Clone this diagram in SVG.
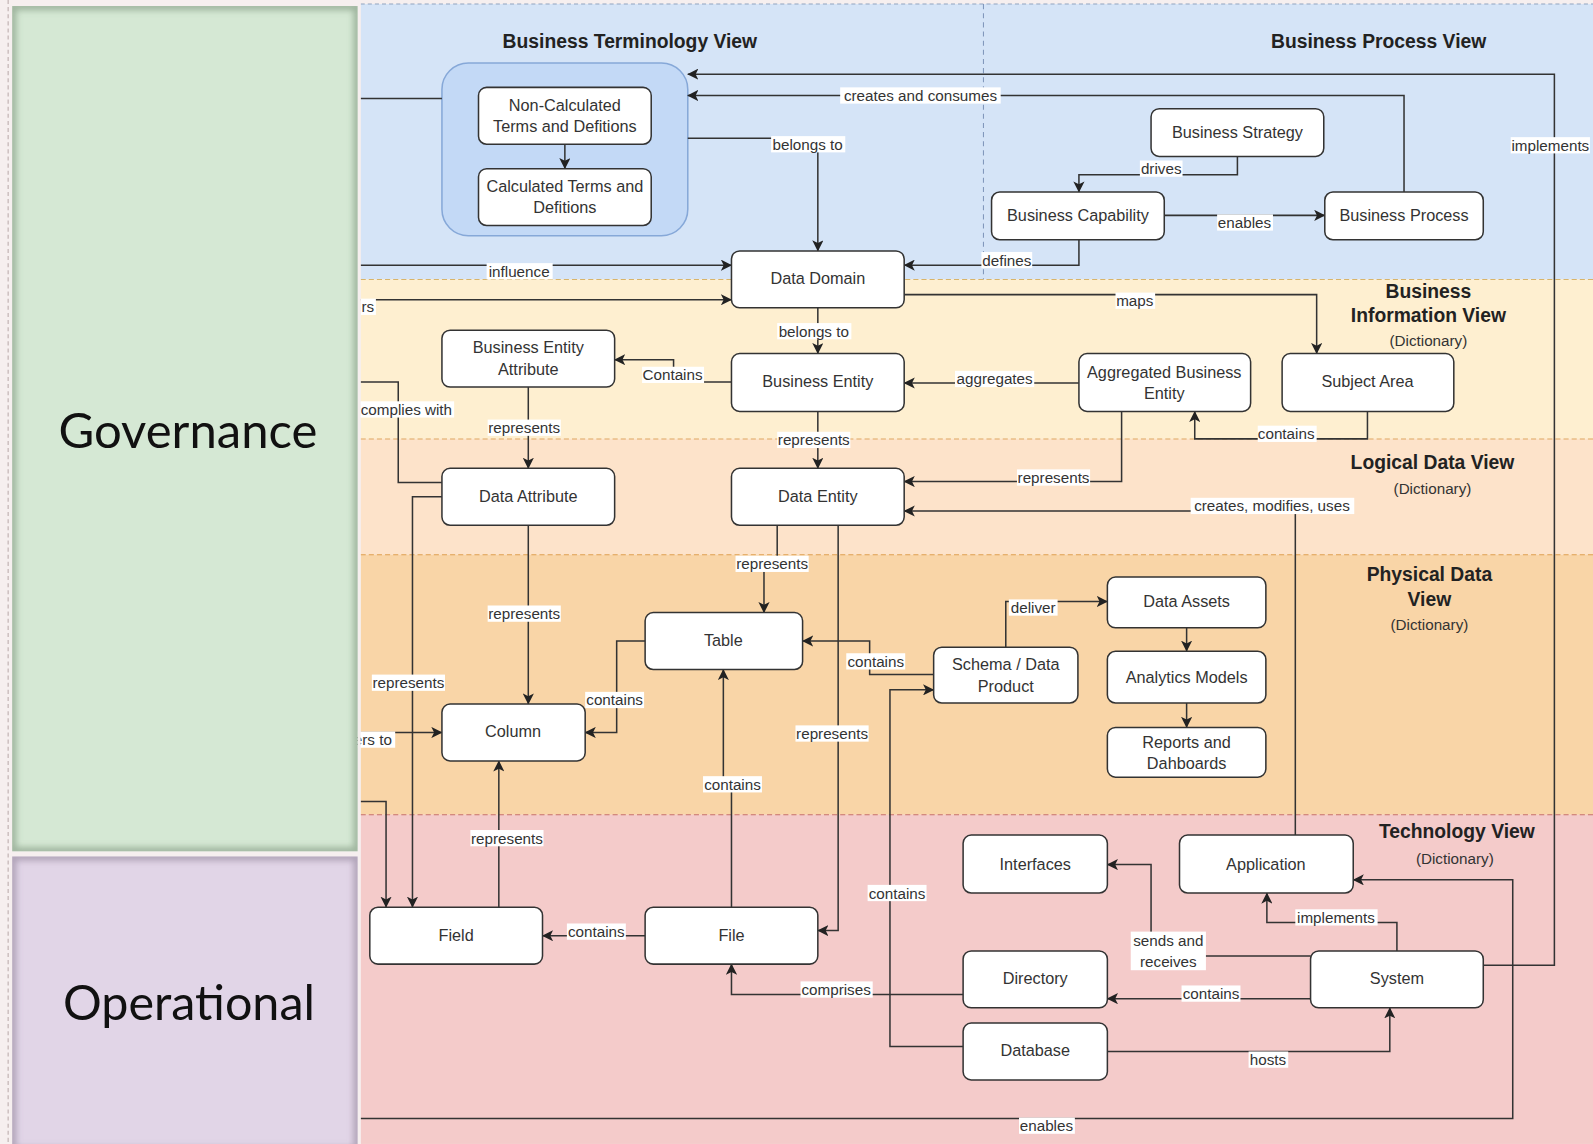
<svg xmlns="http://www.w3.org/2000/svg" width="1593" height="1144" viewBox="0 0 1593 1144">
<defs>
<style>
.node rect{fill:#ffffff;stroke:#333333;stroke-width:1.5}
.node text{font-family:"Liberation Sans",Arial,sans-serif;font-size:16px;fill:#333333;text-anchor:middle;dominant-baseline:central}
.conn path{fill:none;stroke:#333333;stroke-width:1.5}
.arr{marker-end:url(#ah)}
.lbl rect{fill:#ffffff}
.lbl text{font-family:"Liberation Sans",Arial,sans-serif;font-size:15px;fill:#333333;text-anchor:middle;dominant-baseline:central}
.hdr{font-family:"Liberation Sans",Arial,sans-serif;font-weight:bold;font-size:19px;fill:#222222;text-anchor:middle}
.dict{font-family:"Liberation Sans",Arial,sans-serif;font-size:15px;fill:#333333;text-anchor:middle}
.big{font-family:Lato,"Open Sans",sans-serif;font-size:48px;fill:#111111;text-anchor:middle}
</style>
<marker id="ah" viewBox="0 0 10 10" refX="9.5" refY="5" markerWidth="11" markerHeight="11" markerUnits="userSpaceOnUse" orient="auto">
<path d="M0,0 L10,5 L0,10 L2.5,5 z" fill="#222222"/>
</marker>
<clipPath id="cg"><rect x="12" y="6" width="340" height="832"/></clipPath>
<clipPath id="cp"><rect x="12" y="843" width="340" height="290"/></clipPath>
<filter id="blur" x="-5%" y="-5%" width="110%" height="110%"><feGaussianBlur stdDeviation="3"/></filter>
</defs>
<g transform="scale(1.01594)">
<!-- page -->
<rect x="0" y="0" width="1568" height="1126" fill="#f6efef"/>
<line x1="8" y1="0" x2="8" y2="1126" stroke="#b9a9a9" stroke-width="1" stroke-dasharray="4 3"/>
<!-- bands -->
<g id="bands">
<rect x="355" y="4" width="1213" height="271" fill="#d5e4f7"/>
<rect x="355" y="275" width="1213" height="157" fill="#feefd0"/>
<rect x="355" y="432" width="1213" height="114" fill="#fde3ca"/>
<rect x="355" y="546" width="1213" height="256" fill="#f9d5a7"/>
<rect x="355" y="802" width="1213" height="324" fill="#f4cbca"/>
<line x1="355" y1="4" x2="1568" y2="4" stroke="#8fa3c0" stroke-width="1" stroke-dasharray="4 3"/>
<line x1="968" y1="4" x2="968" y2="275" stroke="#7d93b8" stroke-width="1" stroke-dasharray="5 4"/>
<line x1="355" y1="275" x2="1568" y2="275" stroke="#d8b46a" stroke-width="1" stroke-dasharray="5 3"/>
<line x1="355" y1="432" x2="1568" y2="432" stroke="#e0a860" stroke-width="1" stroke-dasharray="5 3"/>
<line x1="355" y1="546" x2="1568" y2="546" stroke="#e0a050" stroke-width="1" stroke-dasharray="5 3"/>
<line x1="355" y1="802" x2="1568" y2="802" stroke="#c8706a" stroke-width="1" stroke-dasharray="5 3"/>
</g>
<!-- headers -->
<g id="headers">
<text class="hdr" x="620" y="47">Business Terminology View</text>
<text class="hdr" x="1357" y="47">Business Process View</text>
<text class="hdr" x="1406" y="293">Business</text>
<text class="hdr" x="1406" y="317">Information View</text>
<text class="dict" x="1406" y="341">(Dictionary)</text>
<text class="hdr" x="1410" y="462">Logical Data View</text>
<text class="dict" x="1410" y="486">(Dictionary)</text>
<text class="hdr" x="1407" y="572">Physical Data</text>
<text class="hdr" x="1407" y="596">View</text>
<text class="dict" x="1407" y="620">(Dictionary)</text>
<text class="hdr" x="1434" y="825">Technology View</text>
<text class="dict" x="1432" y="850">(Dictionary)</text>
</g>
<!-- container -->
<g id="terminology-group">
<rect x="435" y="62" width="242" height="170" rx="26" fill="#c3d9f6" stroke="#86a8d8" stroke-width="1.5"/>
</g>
<!-- connectors -->
<g id="connectors" class="conn">
<path d="M355,97 H435"/>
<path class="arr" d="M1460,950 H1530 V73 H677"/>
<path class="arr" d="M1382,189 V94 H677"/>
<path class="arr" d="M677,136 H805 V247"/>
<path class="arr" d="M1218,154 V172 H1062 V189"/>
<path class="arr" d="M1146,212 H1304"/>
<path class="arr" d="M1062,236 V261 H890"/>
<path class="arr" d="M355,261 H720"/>
<path class="arr" d="M355,295 H720"/>
<path class="arr" d="M890,290 H1296 V348"/>
<path class="arr" d="M805,303 V348"/>
<path class="arr" d="M720,376 H663 V354 H605"/>
<path class="arr" d="M1062,377 H890"/>
<path class="arr" d="M1346,405 V432 H1176 V405"/>
<path class="arr" d="M520,381 V461"/>
<path class="arr" d="M805,405 V461"/>
<path class="arr" d="M1104,405 V474 H890"/>
<path class="arr" d="M1275,822 V503 H890"/>
<path d="M355,376 H392 V475 H435"/>
<path class="arr" d="M435,489 H406 V893"/>
<path class="arr" d="M520,517 V693"/>
<path class="arr" d="M355,789 H380 V893"/>
<path class="arr" d="M355,721 H435"/>
<path class="arr" d="M635,631 H607 V721 H576"/>
<path class="arr" d="M765,517 V560 H752 V603"/>
<path class="arr" d="M825,517 V916 H805"/>
<path class="arr" d="M919,664 H856 V631 H790"/>
<path class="arr" d="M948,1030 H876 V679 H919"/>
<path class="arr" d="M990,637 V592 H1090"/>
<path class="arr" d="M1168,618 V641"/>
<path class="arr" d="M1168,692 V716"/>
<path class="arr" d="M720,893 V772 H712 V659"/>
<path class="arr" d="M491,893 V749"/>
<path class="arr" d="M635,921 H534"/>
<path class="arr" d="M948,979 H720 V949"/>
<path class="arr" d="M1290,941 H1133 V851 H1090"/>
<path class="arr" d="M1290,983 H1090"/>
<path class="arr" d="M1375,936 V908 H1247 V879"/>
<path class="arr" d="M1090,1035 H1368 V992"/>
<path class="arr" d="M355,1101 H1489 V866 H1332"/>
<path class="arr" d="M556,142 V166"/>
</g>
<!-- connector labels -->
<g id="labels" class="lbl">
<rect x="827" y="86" width="158" height="16"/><text x="906" y="94">creates and consumes</text>
<rect x="759" y="134" width="73" height="16"/><text x="795" y="142">belongs to</text>
<rect x="1122" y="158" width="42" height="16"/><text x="1143" y="166">drives</text>
<rect x="1198" y="211" width="55" height="16"/><text x="1225" y="219">enables</text>
<rect x="966" y="248" width="50" height="16"/><text x="991" y="256">defines</text>
<rect x="479" y="259" width="65" height="16"/><text x="511" y="267">influence</text>
<rect x="355" y="294" width="15" height="16"/><text x="362" y="302">rs</text>
<rect x="1098" y="288" width="39" height="16"/><text x="1117" y="296">maps</text>
<rect x="765" y="318" width="73" height="16"/><text x="801" y="326">belongs to</text>
<rect x="632" y="361" width="61" height="16"/><text x="662" y="369">Contains</text>
<rect x="940" y="365" width="78" height="16"/><text x="979" y="373">aggregates</text>
<rect x="1238" y="419" width="58" height="16"/><text x="1266" y="427">contains</text>
<rect x="480" y="413" width="72" height="16"/><text x="516" y="421">represents</text>
<rect x="765" y="425" width="72" height="16"/><text x="801" y="433">represents</text>
<rect x="1001" y="462" width="72" height="16"/><text x="1037" y="470">represents</text>
<rect x="1172" y="490" width="161" height="16"/><text x="1252" y="498">creates, modifies, uses</text>
<rect x="353" y="395" width="94" height="16"/><text x="400" y="403">complies with</text>
<rect x="366" y="664" width="72" height="16"/><text x="402" y="672">represents</text>
<rect x="480" y="596" width="72" height="16"/><text x="516" y="604">represents</text>
<rect x="346" y="720" width="43" height="16"/><text x="367" y="728">ers to</text>
<rect x="576" y="681" width="58" height="16"/><text x="605" y="689">contains</text>
<rect x="724" y="547" width="72" height="16"/><text x="760" y="555">represents</text>
<rect x="783" y="714" width="72" height="16"/><text x="819" y="722">represents</text>
<rect x="833" y="643" width="58" height="16"/><text x="862" y="651">contains</text>
<rect x="854" y="871" width="58" height="16"/><text x="883" y="879">contains</text>
<rect x="993" y="590" width="48" height="16"/><text x="1017" y="598">deliver</text>
<rect x="692" y="764" width="58" height="16"/><text x="721" y="772">contains</text>
<rect x="463" y="817" width="72" height="16"/><text x="499" y="825">represents</text>
<rect x="558" y="909" width="58" height="16"/><text x="587" y="917">contains</text>
<rect x="788" y="966" width="71" height="16"/><text x="823" y="974">comprises</text>
<rect x="1113" y="917" width="74" height="38"/><text x="1150" y="926">sends and</text><text x="1150" y="946">receives</text>
<rect x="1163" y="970" width="58" height="16"/><text x="1192" y="978">contains</text>
<rect x="1275" y="895" width="81" height="16"/><text x="1315" y="903">implements</text>
<rect x="1229" y="1035" width="39" height="16"/><text x="1248" y="1043">hosts</text>
<rect x="1003" y="1100" width="55" height="16"/><text x="1030" y="1108">enables</text>
<rect x="1487" y="135" width="78" height="16"/><text x="1526" y="143">implements</text>
</g>
<!-- nodes -->
<g id="n-noncalc" class="node"><rect x="471" y="86" width="170" height="56" rx="8"/><text x="556" y="103">Non-Calculated</text><text x="556" y="124">Terms and Defitions</text></g>
<g id="n-calc" class="node"><rect x="471" y="166" width="170" height="56" rx="8"/><text x="556" y="183">Calculated Terms and</text><text x="556" y="204">Defitions</text></g>
<g id="n-strategy" class="node"><rect x="1133" y="107" width="170" height="47" rx="8"/><text x="1218" y="130">Business Strategy</text></g>
<g id="n-capability" class="node"><rect x="976" y="189" width="170" height="47" rx="8"/><text x="1061" y="212">Business Capability</text></g>
<g id="n-process" class="node"><rect x="1304" y="189" width="156" height="47" rx="8"/><text x="1382" y="212">Business Process</text></g>
<g id="n-domain" class="node"><rect x="720" y="247" width="170" height="56" rx="8"/><text x="805" y="274">Data Domain</text></g>
<g id="n-bea" class="node"><rect x="435" y="325" width="170" height="56" rx="8"/><text x="520" y="342">Business Entity</text><text x="520" y="363">Attribute</text></g>
<g id="n-be" class="node"><rect x="720" y="348" width="170" height="57" rx="8"/><text x="805" y="375">Business Entity</text></g>
<g id="n-abe" class="node"><rect x="1062" y="348" width="169" height="57" rx="8"/><text x="1146" y="366">Aggregated Business</text><text x="1146" y="387">Entity</text></g>
<g id="n-subject" class="node"><rect x="1262" y="348" width="169" height="57" rx="8"/><text x="1346" y="375">Subject Area</text></g>
<g id="n-dattr" class="node"><rect x="435" y="461" width="170" height="56" rx="8"/><text x="520" y="488">Data Attribute</text></g>
<g id="n-dentity" class="node"><rect x="720" y="461" width="170" height="56" rx="8"/><text x="805" y="488">Data Entity</text></g>
<g id="n-table" class="node"><rect x="635" y="603" width="155" height="56" rx="8"/><text x="712" y="630">Table</text></g>
<g id="n-schema" class="node"><rect x="919" y="637" width="142" height="55" rx="8"/><text x="990" y="654">Schema / Data</text><text x="990" y="675">Product</text></g>
<g id="n-assets" class="node"><rect x="1090" y="568" width="156" height="50" rx="8"/><text x="1168" y="592">Data Assets</text></g>
<g id="n-analytics" class="node"><rect x="1090" y="641" width="156" height="51" rx="8"/><text x="1168" y="666">Analytics Models</text></g>
<g id="n-reports" class="node"><rect x="1090" y="716" width="156" height="49" rx="8"/><text x="1168" y="730">Reports and</text><text x="1168" y="751">Dahboards</text></g>
<g id="n-column" class="node"><rect x="435" y="693" width="141" height="56" rx="8"/><text x="505" y="720">Column</text></g>
<g id="n-field" class="node"><rect x="364" y="893" width="170" height="56" rx="8"/><text x="449" y="920">Field</text></g>
<g id="n-file" class="node"><rect x="635" y="893" width="170" height="56" rx="8"/><text x="720" y="920">File</text></g>
<g id="n-interfaces" class="node"><rect x="948" y="822" width="142" height="57" rx="8"/><text x="1019" y="850">Interfaces</text></g>
<g id="n-application" class="node"><rect x="1161" y="822" width="171" height="57" rx="8"/><text x="1246" y="850">Application</text></g>
<g id="n-directory" class="node"><rect x="948" y="936" width="142" height="56" rx="8"/><text x="1019" y="963">Directory</text></g>
<g id="n-system" class="node"><rect x="1290" y="936" width="170" height="56" rx="8"/><text x="1375" y="963">System</text></g>
<g id="n-database" class="node"><rect x="948" y="1007" width="142" height="56" rx="8"/><text x="1019" y="1034">Database</text></g>
<!-- left panels -->
<g id="governance">
<rect x="352" y="0" width="3" height="1126" fill="#f6efef"/>
<rect x="12" y="6" width="340" height="832" fill="#d5e8d4"/>
<g clip-path="url(#cg)"><rect x="12" y="6" width="340" height="832" fill="none" stroke="#6f866e" stroke-width="8" stroke-opacity="0.55" filter="url(#blur)"/></g>
<text class="big" x="185" y="441" textLength="255" lengthAdjust="spacingAndGlyphs">Governance</text>
</g>
<g id="operational">
<rect x="12" y="843" width="340" height="290" fill="#e1d5e7"/>
<g clip-path="url(#cp)"><rect x="12" y="843" width="340" height="290" fill="none" stroke="#7d6d86" stroke-width="8" stroke-opacity="0.5" filter="url(#blur)"/></g>
<text class="big" x="186" y="1004" textLength="248" lengthAdjust="spacingAndGlyphs">Operational</text>
</g>
</g>
</svg>
